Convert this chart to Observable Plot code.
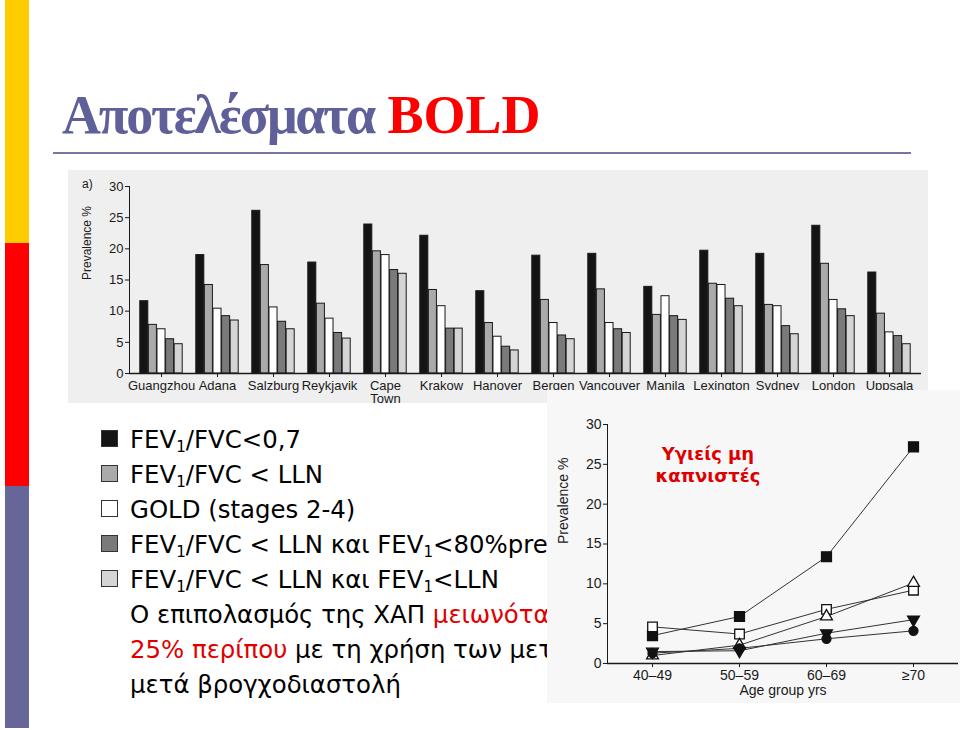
<!DOCTYPE html>
<html><head><meta charset="utf-8">
<script src="https://cdn.jsdelivr.net/npm/d3@7"></script>
<script src="https://cdn.jsdelivr.net/npm/@observablehq/plot@0.6"></script>
<style>
html,body{margin:0;padding:0;background:#fff;}
#slide{position:relative;width:960px;height:730px;overflow:hidden;background:#fff;font-family:"DejaVu Sans",Verdana,sans-serif;}
.abs{position:absolute;}
.row{position:absolute;left:130px;font-size:24.4px;line-height:35px;white-space:nowrap;color:#000;}
.sub{font-size:0.62em;position:relative;top:0.28em;}
.sw{position:absolute;left:101px;width:15px;height:15px;border:1px solid #333;}
.red{color:#e00000;}
#clip{position:absolute;left:0;top:0;width:547px;height:730px;overflow:hidden;}
</style></head><body><div id="slide">
<div class="abs" style="left:5px;top:0;width:24px;height:243px;background:#ffcc00"></div>
<div class="abs" style="left:5px;top:243px;width:24px;height:243px;background:#ff0000"></div>
<div class="abs" style="left:5px;top:486px;width:24px;height:242px;background:#666699"></div>
<div class="abs" style="left:62px;top:88px;font-family:'Liberation Serif','Times New Roman',serif;font-weight:bold;font-size:54px;line-height:54px;white-space:nowrap;"><span style="color:#5f5f99;letter-spacing:-2.2px">Αποτελέσματα</span> <span style="color:#ff0000">BOLD</span></div>
<div class="abs" style="left:53px;top:152px;width:858px;height:2px;background:#7777a4"></div>
<div id="bars" class="abs" style="left:68px;top:170px;"></div>
<div class="abs" style="left:82px;top:177px;font-family:'Liberation Sans',Arial,sans-serif;font-size:12px;color:#1a1a1a">a)</div>
<div id="clip"><div id="legend"></div></div>
<div id="lines" class="abs" style="left:547px;top:390px;"></div>
<div class="abs" style="left:598px;top:443px;width:220px;text-align:center;font-family:'DejaVu Sans',Verdana,sans-serif;font-weight:bold;font-size:18px;line-height:22px;color:#dd0000">Υγιείς μη<br>καπνιστές</div>
</div>
<script>
// ---- Bar chart data (prevalence %, by site) ----
const cities = ["Guangzhou","Adana","Salzburg","Reykjavik","Cape Town","Krakow","Hanover","Bergen","Vancouver","Manila","Lexington","Sydney","London","Uppsala"];
const ratioUnder07 = [11.6,19.0,26.1,17.8,23.9,22.1,13.2,18.9,19.2,13.9,19.7,19.2,23.7,16.2];
const ratioUnderLLN = [7.8,14.2,17.4,11.2,19.6,13.4,8.1,11.8,13.5,9.4,14.4,11.0,17.6,9.6];
const goldStages = [7.1,10.4,10.6,8.8,19.0,10.8,5.9,8.1,8.1,12.4,14.2,10.8,11.8,6.6];
const llnAnd80pred = [5.5,9.2,8.3,6.5,16.6,7.2,4.3,6.1,7.1,9.2,12.0,7.6,10.3,6.0];
const llnAndFevLLN = [4.7,8.5,7.1,5.6,16.0,7.2,3.7,5.5,6.5,8.6,10.8,6.3,9.2,4.7];
const yTicks = [0,5,10,15,20,25,30];
const seriesFills = ["#141414","#aaaaaa","#ffffff","#7a7a7a","#d4d4d4"];
const seriesValues = [ratioUnder07, ratioUnderLLN, goldStages, llnAnd80pred, llnAndFevLLN];

// ---- Line chart data (healthy never-smokers, by age group) ----
const ageGroups = ["40–49","50–59","60–69","≥70"];
const filledSquare = [3.5,5.9,13.4,27.2];
const openSquare = [4.6,3.7,6.8,9.2];
const openTriangle = [1.0,2.3,5.9,10.1];
const filledTriangleDown = [1.5,1.6,3.8,5.5];
const filledCircle = [1.3,1.9,3.1,4.1];

// ---- Legend text ----
const legendRows = [
  ["FEV", "1", "/FVC<0,7"],
  ["FEV", "1", "/FVC < LLN"],
  ["GOLD (stages 2-4)"],
  ["FEV", "1", "/FVC < LLN και FEV", "1", "<80%pred"],
  ["FEV", "1", "/FVC < LLN και FEV", "1", "<LLN"]
];
const textLines = [
  [["Ο επιπολασμός της ΧΑΠ ", ""], ["μειωνόταν", "red"]],
  [["25% περίπου", "red"], [" με τη χρήση των μετ", ""]],
  [["μετά βρογχοδιαστολή", ""]]
];

// Bar chart
const W = 860, H = 233, ML = 61, MR = 7;
const band = (W - ML - MR) / cities.length;
const bw = 8.6;
const inset = (band - bw) / 2;
const barRows = seriesValues.map((vals, k) => cities.map((c, i) => ({city: c, series: k, value: vals[i]})));
const barChart = Plot.plot({
  width: W, height: H, marginLeft: ML, marginRight: MR, marginTop: 16, marginBottom: 30,
  style: {background: "#efefef", fontFamily: "'Liberation Sans',Arial,sans-serif", fontSize: "13px", color: "#1a1a1a", overflow: "visible"},
  x: {domain: cities, padding: 0, tickSize: 4, tickPadding: 3, label: null, tickFormat: c => c === "Cape Town" ? "Cape\nTown" : c},
  y: {domain: [0, 30], ticks: yTicks, tickSize: 4, tickPadding: 2, label: null, line: true},
  marks: [
    ...barRows.map((rows, k) => Plot.barY(rows, {x: "city", y: "value", fill: seriesFills[k], stroke: "#1a1a1a", strokeWidth: 1, insetLeft: inset, insetRight: inset, dx: (k - 2) * bw})),
    Plot.ruleY([0], {stroke: "#1a1a1a", strokeWidth: 1.3}),
    Plot.text(["Prevalence %"], {frameAnchor: "left", dx: -42, rotate: -90, fontSize: 12, fill: "#1a1a1a"})
  ]
});
document.getElementById("bars").appendChild(barChart);

// Legend
const legend = document.getElementById("legend");
const baselines = [448, 483, 518, 553, 588];
legendRows.forEach((parts, i) => {
  const sw = document.createElement("div");
  sw.className = "sw";
  sw.style.top = (baselines[i] - 18) + "px";
  sw.style.background = seriesFills[i];
  legend.appendChild(sw);
  const row = document.createElement("div");
  row.className = "row";
  row.style.top = (baselines[i] - 26) + "px";
  parts.forEach((p, j) => {
    const s = document.createElement("span");
    if (j % 2 === 1) s.className = "sub";
    s.textContent = p;
    row.appendChild(s);
  });
  legend.appendChild(row);
});
[623, 658, 693].forEach((b, i) => {
  const row = document.createElement("div");
  row.className = "row";
  row.style.top = (b - 26) + "px";
  textLines[i].forEach(([t, c]) => {
    const s = document.createElement("span");
    if (c) s.className = c;
    s.textContent = t;
    row.appendChild(s);
  });
  legend.appendChild(row);
});

// Line chart
const triangleDown = {draw(ctx, size) {
  const y = -Math.sqrt(size / (Math.sqrt(3) * 3));
  ctx.moveTo(0, -y * 2);
  ctx.lineTo(-Math.sqrt(3) * y, y);
  ctx.lineTo(Math.sqrt(3) * y, y);
  ctx.closePath();
}};
const lineSeries = [
  {name: "filledSquare", values: filledSquare, symbol: "square", fill: "#111", r: 5.6},
  {name: "openSquare", values: openSquare, symbol: "square", fill: "#fff", r: 5.4},
  {name: "openTriangle", values: openTriangle, symbol: "triangle", fill: "#fff", r: 4.4},
  {name: "filledTriangleDown", values: filledTriangleDown, symbol: triangleDown, fill: "#111", r: 4.4},
  {name: "filledCircle", values: filledCircle, symbol: "circle", fill: "#111", r: 4.5}
];
const lineRows = lineSeries.flatMap(s => ageGroups.map((a, i) => ({series: s.name, age: a, value: s.values[i]})));
const lineChart = Plot.plot({
  width: 413, height: 313, marginLeft: 60, marginRight: 2, marginTop: 34, marginBottom: 40,
  style: {background: "#f7f7f7", fontFamily: "'Liberation Sans',Arial,sans-serif", fontSize: "14px", color: "#1a1a1a", overflow: "visible"},
  x: {type: "point", domain: ageGroups, padding: 0.5, tickSize: 4, tickPadding: 3, label: null},
  y: {domain: [0, 30], ticks: yTicks, tickSize: 4, tickPadding: 2, label: null, line: true},
  marks: [
    Plot.ruleY([0], {stroke: "#1a1a1a", strokeWidth: 1.3}),
    Plot.line(lineRows, {x: "age", y: "value", z: "series", stroke: "#333", strokeWidth: 1}),
    ...lineSeries.map(s => Plot.dot(lineRows.filter(d => d.series === s.name), {x: "age", y: "value", symbol: () => s.symbol, r: s.r, fill: s.fill, stroke: "#111", strokeWidth: 1.3})),
    Plot.text(["Prevalence %"], {frameAnchor: "left", dx: -44, rotate: -90, fontSize: 14, fill: "#1a1a1a"}),
    Plot.text(["Age group yrs"], {frameAnchor: "bottom", dy: 31, fontSize: 14, fill: "#1a1a1a"})
  ]
});
document.getElementById("lines").appendChild(lineChart);
</script>
</body></html>
